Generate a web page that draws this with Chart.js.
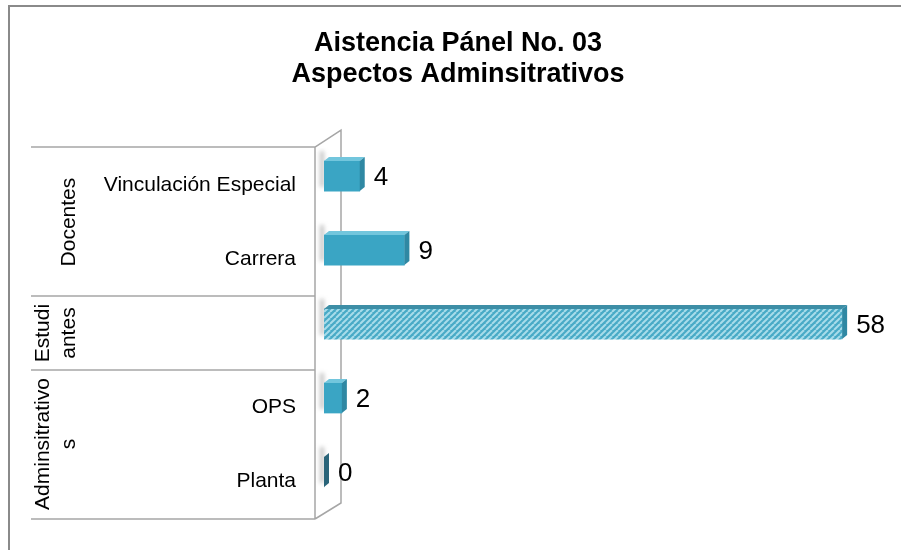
<!DOCTYPE html>
<html>
<head>
<meta charset="utf-8">
<script src="https://cdn.jsdelivr.net/npm/chart.js@4.4.1/dist/chart.umd.min.js"></script>
<style>
  html, body { margin: 0; padding: 0; background: #fff; }
  #wrap { width: 901px; height: 550px; }
</style>
</head>
<body>
<div id="wrap"><canvas id="myBarChart"></canvas></div>
<script>
const titleLines = ["Aistencia Pánel No. 03", "Aspectos Adminsitrativos"];
const categories = ["Vinculación Especial", "Carrera", "", "OPS", "Planta"];
const values = [4, 9, 58, 2, 0];
const groupLines = [["Docentes"], ["Estudi", "antes"], ["Adminsitrativo", "s"]];
const groupFirst = [0, 2, 3];
const groupLast = [1, 2, 4];

const FONT = "'Liberation Sans', Arial, sans-serif";
const ROW_SHIFT = 9; // table rows sit a bit lower than the bars (3d look)

// diagonal hatch for the students bar
function hatchPattern() {
  const c = document.createElement("canvas");
  c.width = 6; c.height = 6;
  const g = c.getContext("2d");
  g.fillStyle = "#48aac6";
  g.fillRect(0, 0, 6, 6);
  g.strokeStyle = "#a8dcea";
  g.lineWidth = 2;
  for (let k = -6; k <= 12; k += 6) {
    g.beginPath();
    g.moveTo(k, 6);
    g.lineTo(k + 6, 0);
    g.stroke();
  }
  return g.createPattern(c, "repeat");
}

const frame = {
  id: "frame",
  beforeDraw(chart) {
    const { ctx, width, height } = chart;
    ctx.save();
    ctx.fillStyle = "#fff";
    ctx.fillRect(0, 0, width, height);
    ctx.strokeStyle = "#8a8a8a";
    ctx.lineWidth = 2;
    ctx.beginPath();
    ctx.moveTo(9, height);
    ctx.lineTo(9, 6);
    ctx.lineTo(width, 6);
    ctx.stroke();
    ctx.restore();
  },
  beforeDatasetsDraw(chart) {
    const { ctx, chartArea } = chart;
    const y = chart.scales.y;
    const top = chartArea.top + ROW_SHIFT - 1;
    const bottom = chartArea.bottom + ROW_SHIFT + 1;
    const front = chartArea.left - 9;
    const back = chartArea.left + 17;
    ctx.save();
    ctx.strokeStyle = "#a6a6a6";
    ctx.lineWidth = 1.5;
    // table lines
    const half = (y.getPixelForValue(1) - y.getPixelForValue(0)) / 2;
    const seps = [top];
    groupLast.forEach((i) => seps.push(y.getPixelForValue(i) + half + ROW_SHIFT));
    seps[seps.length - 1] = bottom;
    ctx.beginPath();
    seps.forEach((sy) => { ctx.moveTo(31, sy); ctx.lineTo(front, sy); });
    ctx.moveTo(front, top); ctx.lineTo(front, bottom);
    // wall
    ctx.moveTo(front, top); ctx.lineTo(back, top - 17);
    ctx.lineTo(back, bottom - 16);
    ctx.lineTo(front, bottom);
    ctx.stroke();

    // soft shadows of the bars on the wall
    ctx.filter = "blur(2px)";
    ctx.fillStyle = "#c4c4c4";
    chart.getDatasetMeta(0).data.forEach((bar) => {
      ctx.fillRect(bar.base - 4, bar.y - bar.height / 2 - 10, 4, bar.height + 6);
    });
    ctx.filter = "none";

    // group labels, rotated
    ctx.fillStyle = "#000";
    ctx.font = "21px " + FONT;
    ctx.textAlign = "center";
    ctx.textBaseline = "middle";
    groupLines.forEach((lines, gi) => {
      const cy = (y.getPixelForValue(groupFirst[gi]) + y.getPixelForValue(groupLast[gi])) / 2 + ROW_SHIFT;
      const xs = lines.length === 1 ? [69] : [43, 69];
      lines.forEach((t, li) => {
        ctx.save();
        ctx.translate(xs[li], cy);
        ctx.rotate(-Math.PI / 2);
        ctx.fillText(t, 0, 0);
        ctx.restore();
      });
    });
    ctx.restore();
  },
  afterDatasetsDraw(chart) {
    const { ctx } = chart;
    const meta = chart.getDatasetMeta(0);
    ctx.save();
    meta.data.forEach((bar, i) => {
      const h = bar.height / 2;
      const t = bar.y - h, b = bar.y + h;
      const l = bar.base, r = bar.x;
      const dx = 5, dy = 4;
      // top face
      ctx.fillStyle = i === 2 ? "#3d8ea6" : "#72c6dd";
      ctx.beginPath();
      ctx.moveTo(l, t); ctx.lineTo(l + dx, t - dy); ctx.lineTo(r + dx, t - dy); ctx.lineTo(r, t);
      ctx.closePath(); ctx.fill();
      // end face
      ctx.fillStyle = values[i] === 0 ? "#2a6479" : "#2f88a3";
      ctx.beginPath();
      ctx.moveTo(r, t); ctx.lineTo(r + dx, t - dy); ctx.lineTo(r + dx, b - dy); ctx.lineTo(r, b);
      ctx.closePath(); ctx.fill();
      // value label
      ctx.fillStyle = "#000";
      ctx.font = "26px " + FONT;
      ctx.textAlign = "left";
      ctx.textBaseline = "middle";
      ctx.fillText(String(values[i]), r + 14, bar.y + 2);
    });
    ctx.restore();
  }
};

const ctx1 = document.getElementById("myBarChart");
let hatch = null;

new Chart(ctx1, {
  type: "bar",
  data: {
    labels: categories,
    datasets: [
      {
        data: values,
        backgroundColor: (c) => {
          if (c.dataIndex === 2) {
            if (!hatch) hatch = hatchPattern();
            return hatch;
          }
          const area = c.chart.chartArea;
          const el = c.element;
          if (!area || !el || el.y === undefined) return "#3aa5c4";
          const g = c.chart.ctx.createLinearGradient(0, el.y - 15, 0, el.y + 15);
          g.addColorStop(0, "#5dbdd8");
          g.addColorStop(0.45, "#3ba6c5");
          g.addColorStop(1, "#2d8cab");
          return g;
        },
        borderWidth: 0,
        barThickness: 30,
      },
    ],
  },
  plugins: [frame],
  options: {
    responsive: true,
    maintainAspectRatio: false,
    animation: false,
    layout: {
      padding: { top: 28, left: 56, right: 41, bottom: 41 },
    },
    plugins: {
      legend: { display: false },
      tooltip: { enabled: false },
      title: {
        display: true,
        text: titleLines,
        color: "#000",
        font: { size: 27, weight: "bold", family: FONT, lineHeight: 1.15 },
        padding: { top: 0, bottom: 49 },
      },
    },
    indexAxis: "y",
    scales: {
      x: {
        display: false,
        min: 0,
        max: 60,
      },
      y: {
        grid: { display: false },
        border: { display: false },
        afterFit: (scale) => { scale.width = 268; },
        ticks: {
          color: "#000",
          padding: 20,
          labelOffset: ROW_SHIFT,
          font: { size: 21, family: FONT },
        },
      },
    },
  },
});
</script>
</body>
</html>
